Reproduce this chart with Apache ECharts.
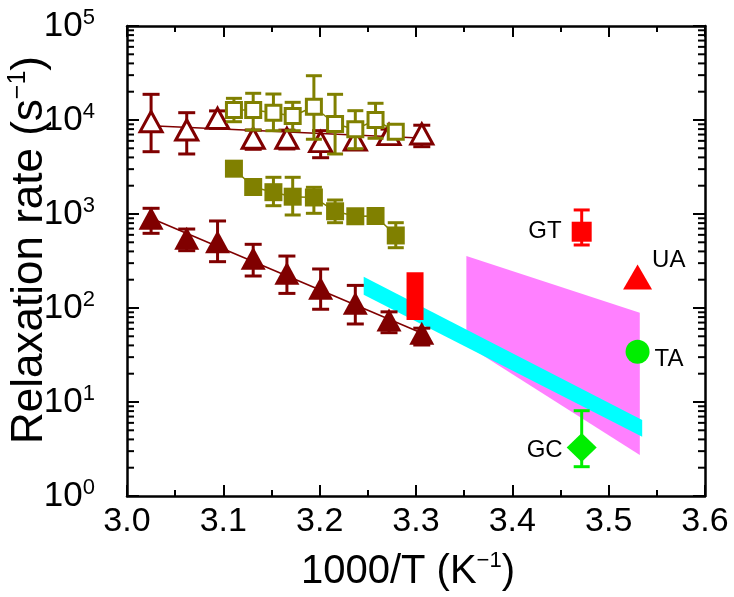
<!DOCTYPE html>
<html><head><meta charset="utf-8">
<script src="https://cdn.jsdelivr.net/npm/echarts@6/dist/echarts.min.js"></script>
<style>html,body{margin:0;padding:0;background:#fff}#c{width:734px;height:597px}</style>
</head><body><div id="c"></div>
<script>
// ---------- data ----------
const triX = [3.025, 3.062, 3.094, 3.131, 3.166, 3.201, 3.237, 3.272, 3.306];
const filledTri = [900, 551, 507, 338, 234, 162, 112, 74.5, 53.8];
const filledTriLow = [623, 407, 311, 219, 143, 97, 67.6, 54.6, 40.4];
const filledTriHigh = [1150, 692, 843, 476, 357, 260, 174, 91, 61];
const openTri = [9590, 7830, 10420, 6390, 6390, 5880, 6120, 7000, 7100];
const openTriLow = [4600, 4350, 8160, 4880, 4920, 3970, 5040, 6000, 5200];
const openTriHigh = [18760, 11960, 12500, 7800, 7800, 7700, 7400, 8000, 8800];

const sqX = [3.111, 3.131, 3.152, 3.172, 3.194, 3.216, 3.237, 3.258, 3.279];
const openSq = [12770, 12770, 11960, 11040, 13840, 9070, 7960, 10000, 7510];
const openSqLow = [9590, 7830, 7690, 7690, 6240, 4350, 4950, 6390, 6800];
const openSqHigh = [17000, 19240, 18900, 15420, 29580, 18760, 12560, 15060, 8300];
const filledSq = [3035, 1937, 1706, 1528, 1499, 1069, 946, 952, 591];
const filledSqLow = [2800, 1800, 1225, 976, 1017, 808, 850, 860, 438];
const filledSqHigh = [3300, 2100, 2457, 2457, 1923, 1409, 1050, 1050, 808];

const filledTriFitX = [3.025, 3.31];
const filledTriFit = [900, 52];
const openTriFitX = [3.025, 3.315];
const openTriFit = [8700, 6350];

const cyanBand = [[3.2457, 215], [3.5348, 6.44], [3.5348, 4.27], [3.2457, 138]];
const magentaBand = [[3.3523, 357], [3.5323, 89], [3.5323, 2.73], [3.3523, 40.4]];
const redBar = {x: 3.299, low: 74.5, high: 240};

const specNames = ['GT', 'UA', 'TA', 'GC'];
const specX = [3.472, 3.530, 3.530, 3.472];
const specY = [648, 214, 34.3, 3.28];
const specLow = [468, null, null, 2.05];
const specHigh = [1104, null, null, 8.08];

const xTicks = [3.0, 3.1, 3.2, 3.3, 3.4, 3.5, 3.6];
const yDecades = [1, 10, 100, 1000, 10000, 100000];
const yMinorMult = [2, 3, 4, 5, 6, 7, 8, 9];

// ---------- styles ----------
const DR = '#800000', OL = '#808000', RED = '#ff0000', GRN = '#00ee00';
const FONT = '"Liberation Sans", Arial, sans-serif';

function errSeries(xs, lows, highs, colors, capW, z) {
  const data = [];
  xs.forEach((x, i) => { if (lows[i] != null) data.push([x, lows[i], highs[i]]); });
  return {
    type: 'custom', z: z, silent: true,
    renderItem: (params, api) => {
      const x = api.value(0);
      const p1 = api.coord([x, api.value(1)]);
      const p2 = api.coord([x, api.value(2)]);
      const w = capW / 2;
      const c = Array.isArray(colors) ? colors[params.dataIndex] : colors;
      const st = {stroke: c, lineWidth: 3, fill: null};
      return {type: 'group', children: [
        {type: 'line', shape: {x1: p1[0], y1: p1[1], x2: p2[0], y2: p2[1]}, style: st},
        {type: 'line', shape: {x1: p1[0] - w, y1: p1[1], x2: p1[0] + w, y2: p1[1]}, style: st},
        {type: 'line', shape: {x1: p2[0] - w, y1: p2[1], x2: p2[0] + w, y2: p2[1]}, style: st}
      ]};
    },
    data: data
  };
}

function polySeries(pts, color, z) {
  return {
    type: 'custom', z: z, silent: true,
    renderItem: (params, api) => {
      if (params.dataIndex !== 0) return null;
      return {type: 'polygon', shape: {points: pts.map(p => api.coord(p))}, style: {fill: color}};
    },
    data: pts
  };
}

const minorVals = [];
yDecades.slice(0, -1).forEach(d => yMinorMult.forEach(m => minorVals.push([3.3, d * m])));

const chart = echarts.init(document.getElementById('c'), null, {renderer: 'canvas'});

const axisLineStyle = {color: '#000', width: 2.5};
const option = {
  animation: false,
  backgroundColor: '#fff',
  grid: {left: 127, right: 29, top: 26, bottom: 101, containLabel: false, outerBoundsMode: 'none'},
  xAxis: [{
    type: 'value', min: 3.0, max: 3.6, interval: 0.1,
    axisLine: {show: true, lineStyle: axisLineStyle},
    axisTick: {show: true, inside: true, length: 11, lineStyle: {color: '#000', width: 2}},
    minorTick: {show: true, splitNumber: 2, length: 6, lineStyle: {color: '#000', width: 2}},
    splitLine: {show: false},
    axisLabel: {color: '#000', fontSize: 34, fontFamily: FONT, margin: 9,
      formatter: v => v.toFixed(1)},
    name: '{a|1000/T (K}{s|−1}{a|)}', nameLocation: 'middle', nameGap: 54, nameMoveOverlap: false,
    nameTextStyle: {padding: [0, 16, 0, 0], rich: {
      a: {fontSize: 40, fontFamily: FONT, color: '#000', lineHeight: 44},
      s: {fontSize: 22, fontFamily: FONT, color: '#000', verticalAlign: 'top', lineHeight: 22}
    }}
  }, {
    type: 'value', min: 3.0, max: 3.6, interval: 0.1, position: 'top',
    axisLine: {show: true, lineStyle: axisLineStyle},
    axisTick: {show: true, inside: true, length: 11, lineStyle: {color: '#000', width: 2}},
    minorTick: {show: true, splitNumber: 2, length: 6, lineStyle: {color: '#000', width: 2}},
    splitLine: {show: false}, axisLabel: {show: false}
  }],
  yAxis: [{
    type: 'log', logBase: 10, min: 1, max: 100000,
    axisLine: {show: true, lineStyle: axisLineStyle},
    axisTick: {show: true, inside: true, length: 12, lineStyle: {color: '#000', width: 2}},
    splitLine: {show: false},
    axisLabel: {margin: 32, formatter: v => '{b|10}{s|' + Math.round(Math.log10(v)) + '}',
      rich: {
        b: {fontSize: 35, fontFamily: FONT, color: '#000', lineHeight: 38},
        s: {fontSize: 22, fontFamily: FONT, color: '#000', verticalAlign: 'top', lineHeight: 22}
      }},
    name: '{a|Relaxation rate (s}{s|−1}{a|)}', nameLocation: 'middle', nameGap: 73, nameMoveOverlap: false,
    nameTextStyle: {padding: [0, 0, 0, 22], rich: {
      a: {fontSize: 44, fontFamily: FONT, color: '#000', lineHeight: 48},
      s: {fontSize: 25, fontFamily: FONT, color: '#000', verticalAlign: 'top', lineHeight: 25}
    }}
  }, {
    type: 'log', logBase: 10, min: 1, max: 100000, position: 'right',
    axisLine: {show: true, lineStyle: axisLineStyle},
    axisTick: {show: true, inside: true, length: 12, lineStyle: {color: '#000', width: 2}},
    splitLine: {show: false}, axisLabel: {show: false}
  }],
  series: [
    polySeries(magentaBand, '#ff80ff', 1),
    polySeries(cyanBand, '#00ffff', 2),
    {
      type: 'custom', z: 3, silent: true,
      renderItem: (params, api) => {
        const p1 = api.coord([api.value(0), api.value(1)]);
        const p2 = api.coord([api.value(0), api.value(2)]);
        return {type: 'rect', shape: {x: p1[0] - 8.5, y: p2[1], width: 17, height: p1[1] - p2[1]}, style: {fill: RED}};
      },
      data: [[redBar.x, redBar.low, redBar.high]]
    },
    {type: 'line', z: 4, silent: true, symbol: 'none', lineStyle: {color: DR, width: 1.6},
      data: filledTriFitX.map((x, i) => [x, filledTriFit[i]])},
    {type: 'line', z: 4, silent: true, symbol: 'none', lineStyle: {color: DR, width: 1.6},
      data: openTriFitX.map((x, i) => [x, openTriFit[i]])},
    errSeries(triX, openTriLow, openTriHigh, DR, 17, 5),
    errSeries(triX, filledTriLow, filledTriHigh, DR, 17, 5),
    errSeries(sqX, openSqLow, openSqHigh, OL, 16, 7),
    errSeries(sqX, filledSqLow, filledSqHigh, OL, 16, 7),
    errSeries([specX[0], specX[3]], [specLow[0], specLow[3]], [specHigh[0], specHigh[3]], [RED, GRN], 16, 9),
    {type: 'scatter', z: 6, silent: true, symbol: 'triangle', symbolSize: [22, 20],
      itemStyle: {color: '#fff', borderColor: DR, borderWidth: 3, opacity: 1},
      data: triX.map((x, i) => [x, openTri[i]])},
    {type: 'scatter', z: 6, silent: true, symbol: 'triangle', symbolSize: [25, 23],
      itemStyle: {color: DR, opacity: 1},
      data: triX.map((x, i) => [x, filledTri[i]])},
    {type: 'line', z: 8, silent: true, symbol: 'rect', symbolSize: 15, showAllSymbol: true,
      lineStyle: {color: OL, width: 1.5},
      itemStyle: {color: '#fff', borderColor: OL, borderWidth: 3, opacity: 1},
      data: sqX.map((x, i) => [x, openSq[i]])},
    {type: 'line', z: 8, silent: true, symbol: 'rect', symbolSize: 18, showAllSymbol: true,
      lineStyle: {color: OL, width: 1.5},
      itemStyle: {color: OL, borderColor: OL, borderWidth: 0, opacity: 1},
      data: sqX.map((x, i) => [x, filledSq[i]])},
    {type: 'scatter', z: 10, silent: true,
      data: specNames.map((n, i) => {
        const sty = [
          {symbol: 'rect', symbolSize: 20, itemStyle: {color: RED}, label: {position: 'left', distance: 10, offset: [0, 0]}},
          {symbol: 'triangle', symbolSize: [29, 25], itemStyle: {color: RED}, label: {position: 'right', distance: 0, offset: [0, -17]}},
          {symbol: 'circle', symbolSize: 24, itemStyle: {color: GRN}, label: {position: 'right', distance: 5, offset: [0, 8]}},
          {symbol: 'diamond', symbolSize: [30, 29], itemStyle: {color: GRN}, label: {position: 'left', distance: 4, offset: [0, 3]}}
        ][i];
        return {value: [specX[i], specY[i]], name: n, symbol: sty.symbol, symbolSize: sty.symbolSize,
          itemStyle: Object.assign({opacity: 1}, sty.itemStyle),
          label: Object.assign({show: true, formatter: '{b}', color: '#000', fontSize: 24, fontFamily: FONT}, sty.label)};
      })
    },
    {
      type: 'custom', z: 20, silent: true,
      renderItem: (params, api) => {
        const v = api.value(1);
        const pl = api.coord([3.0, v]);
        const pr = api.coord([3.6, v]);
        const st = {stroke: '#000', lineWidth: 2};
        return {type: 'group', children: [
          {type: 'line', shape: {x1: pl[0], y1: pl[1], x2: pl[0] + 7, y2: pl[1]}, style: st},
          {type: 'line', shape: {x1: pr[0], y1: pr[1], x2: pr[0] - 7, y2: pr[1]}, style: st}
        ]};
      },
      data: minorVals
    }
  ]
};
chart.setOption(option);
</script>
</body></html>
